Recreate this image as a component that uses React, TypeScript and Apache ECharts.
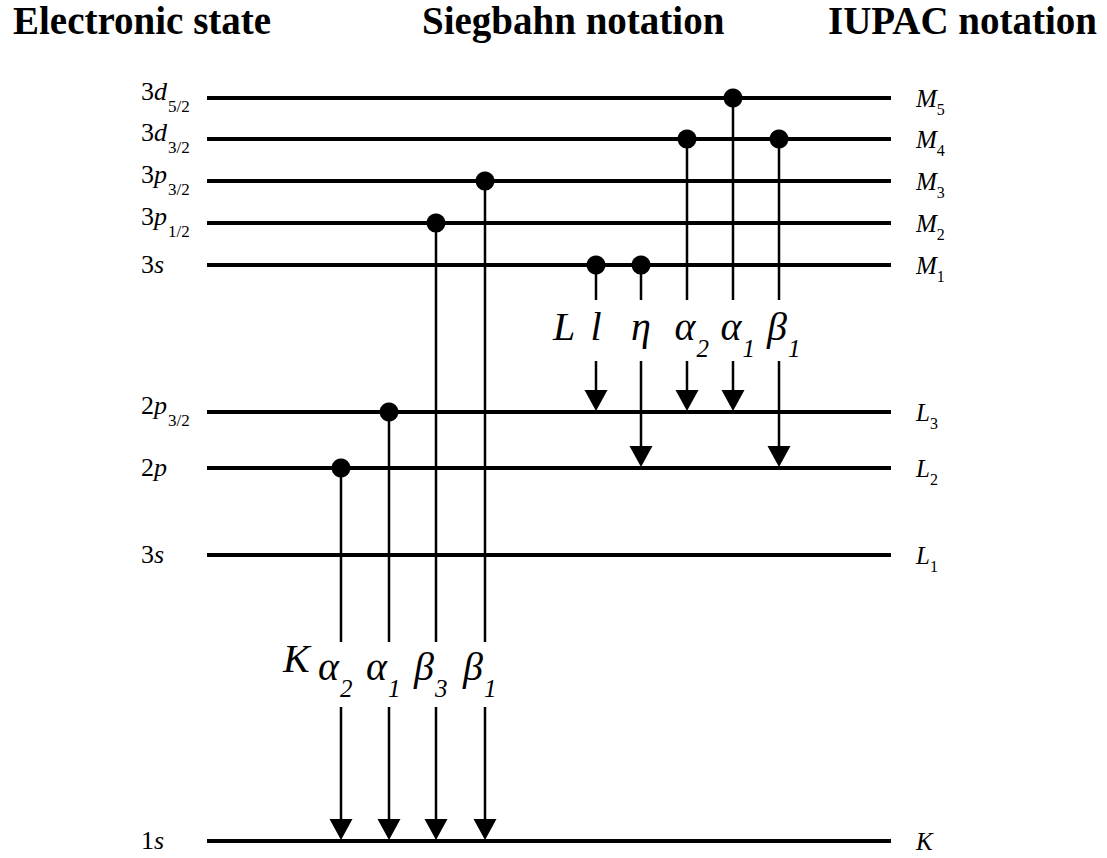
import React, { useEffect, useRef } from "react";
import * as echarts from "echarts";

// ---------- data ----------
const levelIds = ["M5", "M4", "M3", "M2", "M1", "L3", "L2", "L1", "K"];
// schematic depth of each level (0 = top of diagram)
const levelDepths = [98, 139, 181, 223, 265, 412, 468, 555, 841];
const stateDigits = ["3", "3", "3", "3", "3", "2", "2", "3", "1"];
const stateOrbitals = ["d", "d", "p", "p", "s", "p", "p", "s", "s"];
const stateSubs = ["5/2", "3/2", "3/2", "1/2", "", "3/2", "", "", ""];
const iupacLetters = ["M", "M", "M", "M", "M", "L", "L", "L", "K"];
const iupacSubs = ["5", "4", "3", "2", "1", "3", "2", "1", ""];

const kLineNames = ["α", "α", "β", "β"];
const kLineSubs = ["2", "1", "3", "1"];
const kLineFrom = ["L2", "L3", "M2", "M3"];
const kLineTo = ["K", "K", "K", "K"];
const kLineColumns = [341, 389, 436, 485];

const lLineNames = ["l", "η", "α", "α", "β"];
const lLineSubs = ["", "", "2", "1", "1"];
const lLineFrom = ["M1", "M1", "M4", "M5", "M4"];
const lLineTo = ["L3", "L2", "L3", "L3", "L2"];
const lLineColumns = [596, 641, 687, 733, 779];

const headers = ["Electronic state", "Siegbahn notation", "IUPAC notation"];

// ---------- layout / style ----------
const W = 1107;
const H = 858;
const FONT = "Liberation Serif";
const LEVEL_START = 207;
const LEVEL_END = 891;
const STATE_X = 141;
const IUPAC_X = 916;
const STATE_SIZE = 26;
const STATE_SUB_SIZE = 17;
const IUPAC_SIZE = 25;
const IUPAC_SUB_SIZE = 16;
const HEADER_SIZE = 39;
const HEADER_BASE = 34;

const groups = [
  {
    key: "K",
    names: kLineNames, subs: kLineSubs, from: kLineFrom, to: kLineTo, cols: kLineColumns,
    gap: [642, 707], baseline: 680, letterX: 283, letterBaseline: 672, align: "right", shift: -2,
  },
  {
    key: "L",
    names: lLineNames, subs: lLineSubs, from: lLineFrom, to: lLineTo, cols: lLineColumns,
    gap: [300, 361], baseline: 340, letterX: 553, letterBaseline: 340, align: "center", shift: 0,
  },
];

const fontStr = (size: number, italic: boolean, weight = "normal") =>
  `${italic ? "italic " : ""}${weight === "bold" ? "bold " : ""}${size}px "${FONT}"`;

const canvasCtx = typeof document !== "undefined" ? document.createElement("canvas").getContext("2d") : null;
function textWidth(text: string, size: number, italic = false, weight = "normal") {
  if (!canvasCtx) return text.length * size * 0.5;
  canvasCtx.font = fontStr(size, italic, weight);
  return canvasCtx.measureText(text).width;
}

// y of "middle" anchor that puts alphabetic baseline at b
const mid = (b: number, size: number) => b - 0.34 * size;

function txt(x: number, y: number, text: string, size: number, italic: boolean, weight = "normal") {
  return {
    type: "text",
    x,
    y,
    silent: true,
    style: {
      text,
      fill: "#000",
      font: fontStr(size, italic, weight),
      align: "left",
      verticalAlign: "middle",
    },
  };
}

export default function App() {
  const ref = useRef<HTMLDivElement>(null);

  useEffect(() => {
    if (!ref.current) return;
    const chart = echarts.init(ref.current, null, { renderer: "svg" });

    const levelData = levelDepths.map((d, i) => [LEVEL_START, d, LEVEL_END, i]);

    const transitionSeries = groups.map((g) => ({
      type: "custom",
      name: g.key,
      clip: false,
      z: 3,
      data: g.cols.map((c, i) => [
        c,
        levelDepths[levelIds.indexOf(g.from[i])],
        levelDepths[levelIds.indexOf(g.to[i])],
        i,
      ]),
      encode: { x: 0, y: [1, 2] },
      renderItem: (params: any, api: any) => {
        const i = api.value(3);
        const [px, pFrom] = api.coord([api.value(0), api.value(1)]);
        const pTo = api.coord([api.value(0), api.value(2)])[1];
        const g0 = api.coord([api.value(0), g.gap[0]])[1];
        const g1 = api.coord([api.value(0), g.gap[1]])[1];
        const base = api.coord([api.value(0), g.baseline])[1];
        const aH = 21;
        const aW = 11.5;
        const lineStyle = { stroke: "#000", lineWidth: 2.5 };
        const children: any[] = [
          { type: "line", shape: { x1: px, y1: pFrom, x2: px, y2: g0 }, style: lineStyle },
          { type: "line", shape: { x1: px, y1: g1, x2: px, y2: pTo - aH + 2 }, style: lineStyle },
          {
            type: "polygon",
            shape: { points: [[px - aW, pTo - aH - 1], [px + aW, pTo - aH - 1], [px, pTo - 1]] },
            style: { fill: "#000" },
          },
          { type: "circle", shape: { cx: px, cy: pFrom, r: 9.5 }, style: { fill: "#000" } },
        ];
        const name = g.names[i];
        const sub = g.subs[i];
        const mainW = textWidth(name, 40, true);
        let mainRight: number;
        if (g.align === "right") {
          mainRight = px + g.shift;
        } else {
          mainRight = px + mainW / 2 + (sub ? -2 : 0);
        }
        children.push(txt(mainRight - mainW, mid(base, 40), name, 40, true));
        if (sub) {
          children.push(txt(mainRight + 1, mid(base + 17, 25), sub, 25, true));
        }
        if (i === 0) {
          const lb = api.coord([g.letterX, g.letterBaseline]);
          children.push(txt(lb[0], mid(lb[1], 40), g.key, 40, true));
        }
        return { type: "group", children };
      },
    }));

    const option: any = {
      animation: false,
      backgroundColor: "#fff",
      grid: { left: 0, right: 0, top: 0, bottom: 0 },
      xAxis: { type: "value", min: 0, max: W, show: false },
      yAxis: { type: "value", min: 0, max: H, inverse: true, show: false },
      graphic: [
        txt(13, mid(HEADER_BASE, HEADER_SIZE), headers[0], HEADER_SIZE, false, "bold"),
        txt(422, mid(HEADER_BASE, HEADER_SIZE), headers[1], HEADER_SIZE, false, "bold"),
        txt(828, mid(HEADER_BASE, HEADER_SIZE), headers[2], HEADER_SIZE, false, "bold"),
      ],
      series: [
        {
          type: "custom",
          name: "levels",
          clip: false,
          z: 2,
          data: levelData,
          encode: { x: [0, 2], y: 1 },
          renderItem: (params: any, api: any) => {
            const i = api.value(3);
            const [x0, y] = api.coord([api.value(0), api.value(1)]);
            const x1 = api.coord([api.value(2), api.value(1)])[0];
            const children: any[] = [
              { type: "line", shape: { x1: x0, y1: y, x2: x1, y2: y }, style: { stroke: "#000", lineWidth: 4 } },
            ];
            // electronic state label
            const lx = api.coord([STATE_X, 0])[0];
            const dW = textWidth(stateDigits[i], STATE_SIZE);
            const oW = textWidth(stateOrbitals[i], STATE_SIZE, true);
            const hasSub = !!stateSubs[i];
            const mainBase = y + (hasSub ? 2 : 8);
            children.push(txt(lx, mid(mainBase, STATE_SIZE), stateDigits[i], STATE_SIZE, false));
            children.push(txt(lx + dW, mid(mainBase, STATE_SIZE), stateOrbitals[i], STATE_SIZE, true));
            if (hasSub) {
              children.push(txt(lx + dW + oW + 1, mid(y + 14, STATE_SUB_SIZE), stateSubs[i], STATE_SUB_SIZE, false));
            }
            // IUPAC label
            const rx = api.coord([IUPAC_X, 0])[0];
            const mW = textWidth(iupacLetters[i], IUPAC_SIZE, true);
            children.push(txt(rx, mid(y + 9, IUPAC_SIZE), iupacLetters[i], IUPAC_SIZE, true));
            if (iupacSubs[i]) {
              children.push(txt(rx + mW, mid(y + 17, IUPAC_SUB_SIZE), iupacSubs[i], IUPAC_SUB_SIZE, false));
            }
            return { type: "group", children };
          },
        },
        ...transitionSeries,
      ],
    };

    chart.setOption(option);
    return () => chart.dispose();
  }, []);

  return (
    <div
      ref={ref}
      style={{ position: "absolute", left: 0, top: 0, width: W, height: H, background: "#fff" }}
    />
  );
}
